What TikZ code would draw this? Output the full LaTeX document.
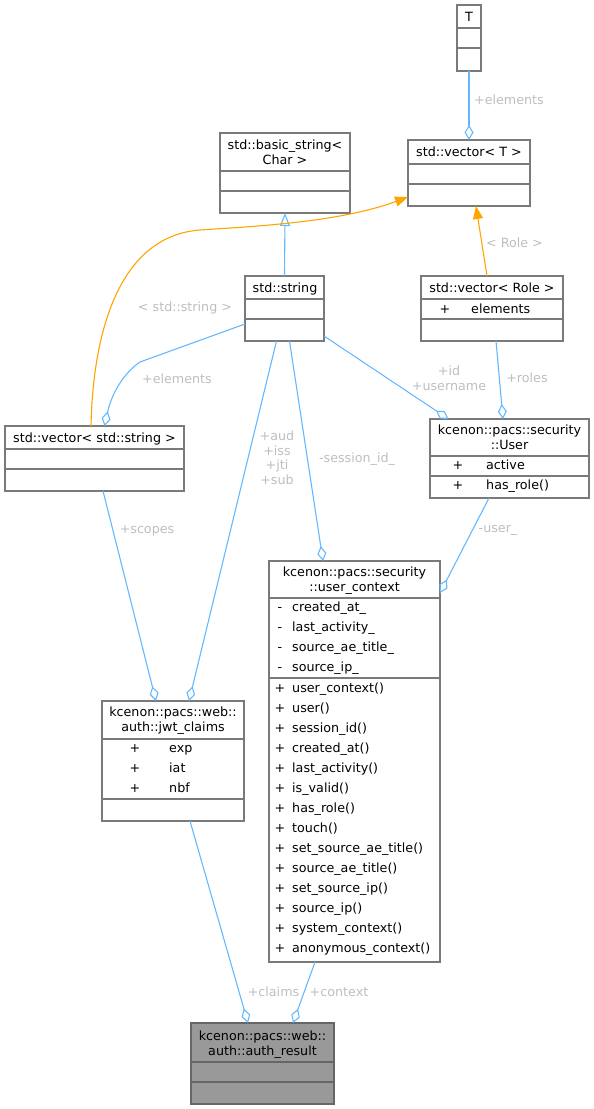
\documentclass[tikz,border=0pt]{standalone}
\usepackage{fontspec}
\setmainfont{DejaVu Sans}
\usetikzlibrary{arrows.meta,calc}
\definecolor{boxgray}{HTML}{7A7A7A}
\definecolor{edgeblue}{HTML}{63B8FF}
\definecolor{edgeorange}{HTML}{FFA500}
\definecolor{lblgray}{HTML}{BEBEBE}
\definecolor{authfill}{HTML}{999999}
\definecolor{authborder}{HTML}{666666}
\begin{document}
\begin{tikzpicture}[x=1pt,y=-1pt,
  cls/.style={draw=boxgray, line width=1.3pt, fill=white, inner sep=0pt, outer sep=0pt, anchor=north west},
  sep/.style={draw=boxgray, line width=1.3pt},
  txt/.style={inner sep=0pt, anchor=base, font=\fontsize{12.7}{15}\selectfont},
  lbl/.style={txt, text=lblgray},
  agg/.style={draw=edgeblue, line width=1.1pt, -{Diamond[open, length=15pt, width=9pt]}},
  inh/.style={draw=edgeblue, line width=1.1pt, -{Triangle[open, length=13pt, width=10pt]}},
  tmpl/.style={draw=edgeorange, line width=1.1pt, -{Triangle[length=13pt, width=10pt]}}
]
\useasboundingbox (0,0) rectangle (594,1109);

% boxes
\node[cls, minimum width=24pt, minimum height=66pt] (T) at (457,5) {};
\node[cls, minimum width=122pt, minimum height=66pt] (vecT) at (408,140) {};
\node[cls, minimum width=130pt, minimum height=80pt] (bstr) at (220,133) {};
\node[cls, minimum width=79pt, minimum height=65pt] (strg) at (245,276) {};
\node[cls, minimum width=142pt, minimum height=65pt] (vecR) at (421,276) {};
\node[cls, minimum width=179pt, minimum height=65pt] (vecS) at (5,426) {};
\node[cls, minimum width=159pt, minimum height=79pt] (User) at (430,419) {};
\node[cls, minimum width=171pt, minimum height=401pt] (ctx) at (269,561) {};
\node[cls, minimum width=142pt, minimum height=120pt] (jwt) at (102,701) {};
\node[cls, draw=authborder, fill=authfill, minimum width=143pt, minimum height=81pt] (auth) at (191,1023) {};

% separators
\foreach \b/\a/\c in {T/23/43, vecT/24/44, bstr/38/58, strg/23/43, vecR/23/43, vecS/23/43, User/37/57, ctx/37/117, jwt/38/98}{
  \draw[sep] ($(\b.north west)+(0,\a)$) -- ($(\b.north east)+(0,\a)$);
  \draw[sep] ($(\b.north west)+(0,\c)$) -- ($(\b.north east)+(0,\c)$);
}
\draw[sep, draw=authborder] ($(auth.north west)+(0,39)$) -- ($(auth.north east)+(0,39)$);
\draw[sep, draw=authborder] ($(auth.north west)+(0,59)$) -- ($(auth.north east)+(0,59)$);

% connectors
\draw[agg] (T.south) -- (vecT.north);
\draw[inh] (strg.north) -- (bstr.south);
\draw[tmpl] ($(vecS.north)+(-3.5,0)$) .. controls (93,330) and (120,236) .. (200,230) .. controls (260,226) and (340,222) .. ($(vecT.south west)+(0,-9)$);
\draw[tmpl] ($(vecR.north)+(-5,0)$) -- ($(vecT.south)+(7,0)$);
\draw[agg] ($(strg.west)+(0,15.5)$) -- (140,362) .. controls (125,372) and (112,392) .. ($(vecS.north)+(10,0)$);
\draw[agg] ($(vecR.south)+(4,0)$) -- ($(User.north)+(-6.5,0)$);
\draw[agg] ($(strg.east)+(0,27.5)$) -- ($(User.north)+(-61,0)$);
\draw[agg] ($(strg.south)+(5,0)$) -- ($(ctx.north)+(-31.5,0)$);
\draw[agg] ($(strg.south)+(-8,0)$) -- ($(jwt.north)+(16,0)$);
\draw[agg] ($(vecS.south)+(8.5,0)$) -- ($(jwt.north)+(-17,0)$);
\draw[agg] ($(User.south)+(-20.5,0)$) -- ($(ctx.north east)+(0,32)$);
\draw[agg] ($(jwt.south)+(17,0)$) -- ($(auth.north)+(-14.5,0)$);
\draw[agg] ($(ctx.south)+(-39.5,0)$) -- ($(auth.north)+(30.5,0)$);

% connector labels
\node[lbl, anchor=base west] (l1) at (474,104.5) {+elements};
\node[lbl] (l2) at (514.5,247.5) {< Role >};
\node[lbl] (l3) at (185,311.5) {< std::string >};
\node[lbl] (l4) at (177,383.5) {+elements};
\node[lbl] (l5) at (449,375.5) {+id};
\node[lbl] (l6) at (449,390.5) {+username};
\node[lbl] (l7) at (527,382.5) {+roles};
\node[lbl] (l8a) at (277,440.5) {+aud};
\node[lbl] (l8b) at (277,455.5) {+iss};
\node[lbl] (l8c) at (277,469.5) {+jti};
\node[lbl] (l8d) at (277,484.5) {+sub};
\node[lbl] (l9) at (357,462.5) {-session\_id\_};
\node[lbl] (l10) at (147,533.5) {+scopes};
\node[lbl] (l11) at (498,532.5) {-user\_};
\node[lbl] (l12) at (273.5,996.5) {+claims};
\node[lbl] (l13) at (339,996.5) {+context};

% box texts
\node[txt] (tT) at (469,21) {T};
\node[txt] (tvecT) at (469,156.5) {std::vector< T >};
\node[txt] (tb1) at (285,149.5) {std::basic\_string<};
\node[txt] (tb2) at (285,164) {Char >};
\node[txt] (ts) at (285,292) {std::string};
\node[txt] (tvr) at (492,292) {std::vector< Role >};
\node[txt] (tvr1) at (445,313) {+};
\node[txt, anchor=base west] (tvr2) at (471,313) {elements};
\node[txt] (tvs) at (94.5,442) {std::vector< std::string >};
\node[txt] (tu1) at (509.5,434.5) {kcenon::pacs::security};
\node[txt] (tu2) at (509.5,449.5) {::User};
\node[txt] (tu3) at (458,469) {+};
\node[txt, anchor=base west] (tu4) at (486,469) {active};
\node[txt] (tu5) at (458,489) {+};
\node[txt, anchor=base west] (tu6) at (486,489) {has\_role()};
\node[txt] (tc1) at (354.5,576.5) {kcenon::pacs::security};
\node[txt] (tc2) at (354.5,591.5) {::user\_context};
\foreach \n [count=\i from 0] in {created\_at\_, last\_activity\_, source\_ae\_title\_, source\_ip\_}{
  \node[txt] (cas\i) at (280,611.5+20*\i) {-};
  \node[txt, anchor=base west] (can\i) at (292,611.5+20*\i) {\n};
}
\foreach \n [count=\i from 0] in {user\_context(), user(), session\_id(), created\_at(), last\_activity(), is\_valid(), has\_role(), touch(), set\_source\_ae\_title(), source\_ae\_title(), set\_source\_ip(), source\_ip(), system\_context(), anonymous\_context()}{
  \node[txt] (cms\i) at (280,692.5+20*\i) {+};
  \node[txt, anchor=base west] (cmn\i) at (292,692.5+20*\i) {\n};
}
\node[txt] (tj1) at (173,716.5) {kcenon::pacs::web::};
\node[txt] (tj2) at (173,731.5) {auth::jwt\_claims};
\foreach \n [count=\i from 0] in {exp, iat, nbf}{
  \node[txt] (js\i) at (135,752+20*\i) {+};
  \node[txt, anchor=base west] (jn\i) at (169,752+20*\i) {\n};
}
\node[txt] (ta1) at (262.5,1040.5) {kcenon::pacs::web::};
\node[txt] (ta2) at (262.5,1055) {auth::auth\_result};
\end{tikzpicture}
\end{document}
